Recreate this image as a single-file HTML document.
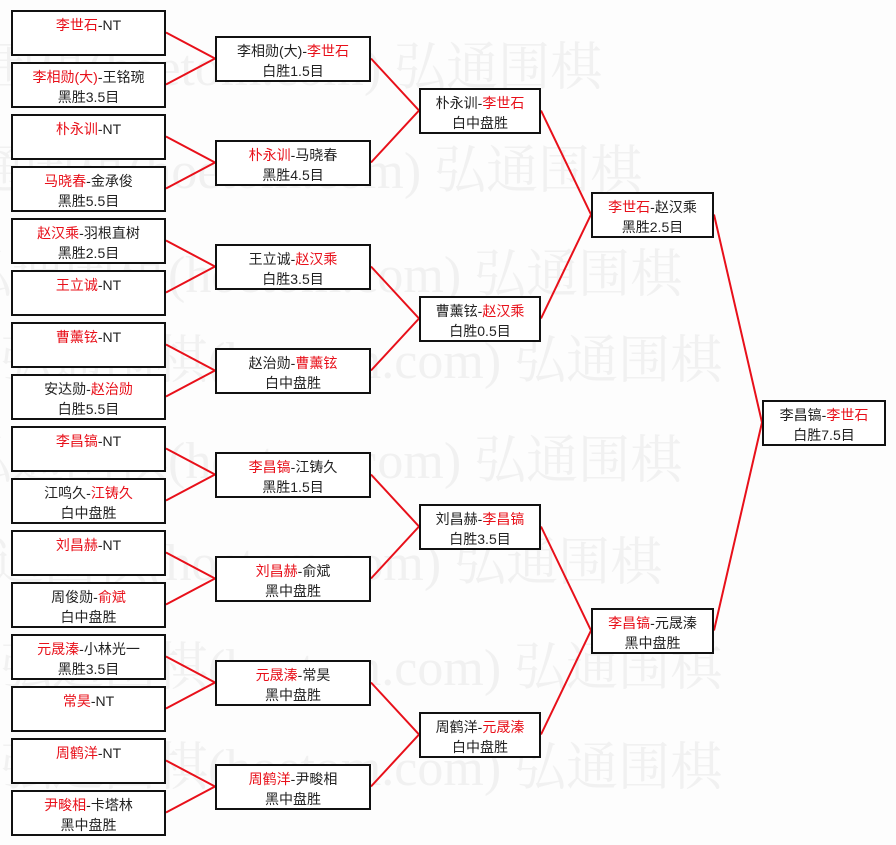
<!DOCTYPE html>
<html><head><meta charset="utf-8"><style>
html,body{margin:0;width:896px;height:845px;overflow:hidden}
body{background:#fdfdfd;position:relative;font-family:"Liberation Sans","Noto Sans CJK SC",sans-serif;}
#wmw{position:absolute;left:0;top:0;width:896px;height:845px;overflow:hidden}
.wm{position:absolute;font-size:52px;color:#f1f1f1;white-space:nowrap;font-family:"Liberation Serif","Noto Serif CJK SC",serif;}
.b{position:absolute;box-sizing:border-box;height:46px;border:2px solid #111;background:#fff;text-align:center;font-size:14px;line-height:20px;padding-top:3px;color:#222;}
.r{color:#e8101a}
svg{position:absolute;left:0;top:0}
</style></head><body>
<div id="wmw">
<div class="wm" style="top:25px;left:-120px">弘通围棋(hoetom.com) 弘通围棋</div>
<div class="wm" style="top:128px;left:-80px">弘通围棋(hoetom.com) 弘通围棋</div>
<div class="wm" style="top:232px;left:-40px">弘通围棋(hoetom.com) 弘通围棋</div>
<div class="wm" style="top:318px;left:0px">弘通围棋(hoetom.com) 弘通围棋</div>
<div class="wm" style="top:418px;left:-40px">弘通围棋(hoetom.com) 弘通围棋</div>
<div class="wm" style="top:520px;left:-60px">弘通围棋(hoetom.com) 弘通围棋</div>
<div class="wm" style="top:625px;left:0px">弘通围棋(hoetom.com) 弘通围棋</div>
<div class="wm" style="top:725px;left:0px">弘通围棋(hoetom.com) 弘通围棋</div>
</div>
<svg width="896" height="845" stroke="#e8101a" stroke-width="2" fill="none">
<path d="M166 32.5L215 58.5L166 84.5M166 136.5L215 162.5L166 188.5M166 240.5L215 266.5L166 292.5M166 344.5L215 370.5L166 396.5M166 448.5L215 474.5L166 500.5M166 552.5L215 578.5L166 604.5M166 656.5L215 682.5L166 708.5M166 760.5L215 786.5L166 812.5"/>
<path d="M371 58.5L419 110.5L371 162.5M371 266.5L419 318.5L371 370.5M371 474.5L419 526.5L371 578.5M371 682.5L419 734.5L371 786.5"/>
<path d="M541 110.5L591 214.5L541 318.5M541 526.5L591 630.5L541 734.5"/>
<path d="M714 214.5L762 422.5L714 630.5"/>
</svg>
<div class="b" style="left:11px;top:10px;width:155px"><span class="r">李世石</span>-NT</div>
<div class="b" style="left:11px;top:62px;width:155px"><span class="r">李相勋(大)</span>-王铭琬<br>黑胜3.5目</div>
<div class="b" style="left:11px;top:114px;width:155px"><span class="r">朴永训</span>-NT</div>
<div class="b" style="left:11px;top:166px;width:155px"><span class="r">马晓春</span>-金承俊<br>黑胜5.5目</div>
<div class="b" style="left:11px;top:218px;width:155px"><span class="r">赵汉乘</span>-羽根直树<br>黑胜2.5目</div>
<div class="b" style="left:11px;top:270px;width:155px"><span class="r">王立诚</span>-NT</div>
<div class="b" style="left:11px;top:322px;width:155px"><span class="r">曹薰铉</span>-NT</div>
<div class="b" style="left:11px;top:374px;width:155px">安达勋-<span class="r">赵治勋</span><br>白胜5.5目</div>
<div class="b" style="left:11px;top:426px;width:155px"><span class="r">李昌镐</span>-NT</div>
<div class="b" style="left:11px;top:478px;width:155px">江鸣久-<span class="r">江铸久</span><br>白中盘胜</div>
<div class="b" style="left:11px;top:530px;width:155px"><span class="r">刘昌赫</span>-NT</div>
<div class="b" style="left:11px;top:582px;width:155px">周俊勋-<span class="r">俞斌</span><br>白中盘胜</div>
<div class="b" style="left:11px;top:634px;width:155px"><span class="r">元晟溱</span>-小林光一<br>黑胜3.5目</div>
<div class="b" style="left:11px;top:686px;width:155px"><span class="r">常昊</span>-NT</div>
<div class="b" style="left:11px;top:738px;width:155px"><span class="r">周鹤洋</span>-NT</div>
<div class="b" style="left:11px;top:790px;width:155px"><span class="r">尹畯相</span>-卡塔林<br>黑中盘胜</div>

<div class="b" style="left:215px;top:36px;width:156px">李相勋(大)-<span class="r">李世石</span><br>白胜1.5目</div>
<div class="b" style="left:215px;top:140px;width:156px"><span class="r">朴永训</span>-马晓春<br>黑胜4.5目</div>
<div class="b" style="left:215px;top:244px;width:156px">王立诚-<span class="r">赵汉乘</span><br>白胜3.5目</div>
<div class="b" style="left:215px;top:348px;width:156px">赵治勋-<span class="r">曹薰铉</span><br>白中盘胜</div>
<div class="b" style="left:215px;top:452px;width:156px"><span class="r">李昌镐</span>-江铸久<br>黑胜1.5目</div>
<div class="b" style="left:215px;top:556px;width:156px"><span class="r">刘昌赫</span>-俞斌<br>黑中盘胜</div>
<div class="b" style="left:215px;top:660px;width:156px"><span class="r">元晟溱</span>-常昊<br>黑中盘胜</div>
<div class="b" style="left:215px;top:764px;width:156px"><span class="r">周鹤洋</span>-尹畯相<br>黑中盘胜</div>

<div class="b" style="left:419px;top:88px;width:122px">朴永训-<span class="r">李世石</span><br>白中盘胜</div>
<div class="b" style="left:419px;top:296px;width:122px">曹薰铉-<span class="r">赵汉乘</span><br>白胜0.5目</div>
<div class="b" style="left:419px;top:504px;width:122px">刘昌赫-<span class="r">李昌镐</span><br>白胜3.5目</div>
<div class="b" style="left:419px;top:712px;width:122px">周鹤洋-<span class="r">元晟溱</span><br>白中盘胜</div>

<div class="b" style="left:591px;top:192px;width:123px"><span class="r">李世石</span>-赵汉乘<br>黑胜2.5目</div>
<div class="b" style="left:591px;top:608px;width:123px"><span class="r">李昌镐</span>-元晟溱<br>黑中盘胜</div>

<div class="b" style="left:762px;top:400px;width:124px">李昌镐-<span class="r">李世石</span><br>白胜7.5目</div>
</body></html>
